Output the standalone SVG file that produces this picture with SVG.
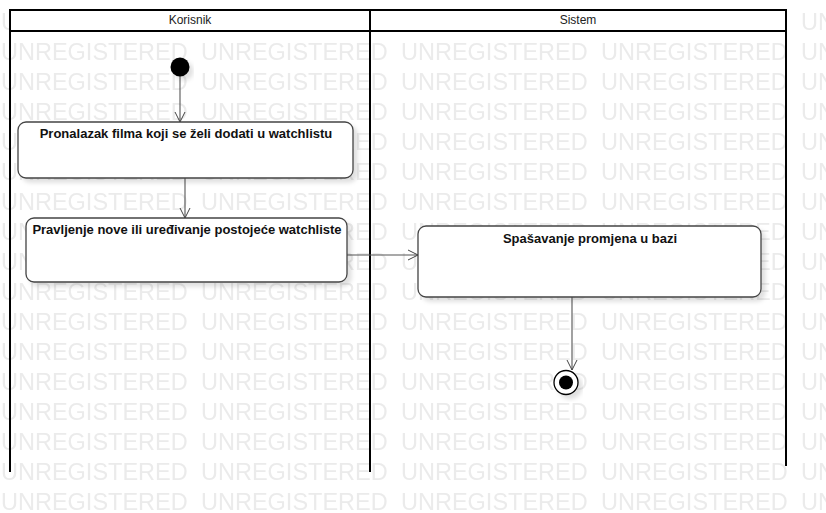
<svg xmlns="http://www.w3.org/2000/svg" width="826" height="513" viewBox="0 0 826 513">
  <defs>
    <pattern id="wm" x="0" y="0" width="200" height="30" patternUnits="userSpaceOnUse">
      <text x="1" y="30" class="wmt">UNREGISTERED</text>
    </pattern>
    <filter id="sh" x="-10%" y="-20%" width="130%" height="150%">
      <feDropShadow dx="4" dy="4" stdDeviation="2" flood-color="#000" flood-opacity="0.12"/>
    </filter>
    <marker id="arr" viewBox="0 0 12 12" refX="11" refY="6" markerWidth="12" markerHeight="12" markerUnits="userSpaceOnUse" orient="auto">
      <path d="M1,1 L11,6 L1,11" fill="none" stroke="#444" stroke-width="1"/>
    </marker>
    <style>
      .wmt { font-family: "Liberation Sans", Arial, sans-serif; font-size: 23.5px; fill: #ebebeb; }
      .lane { fill: none; stroke: #000; stroke-width: 2; }
      .hdr { font-family: "Liberation Sans", Arial, sans-serif; font-size: 12px; fill: #222; text-anchor: middle; }
      .act { fill: #fff; stroke: #444; stroke-width: 1.3; filter: url(#sh); }
      .lbl { font-family: "Liberation Sans", Arial, sans-serif; font-size: 13px; font-weight: bold; fill: #111; text-anchor: middle; }
      .con { fill: none; stroke: #555; stroke-width: 1.1; marker-end: url(#arr); }
    </style>
  </defs>

  <rect x="0" y="0" width="826" height="513" fill="#fff"/>
  <rect x="0" y="0" width="826" height="513" fill="url(#wm)"/>

  <g id="swimlanes">
    <rect x="10" y="10" width="776" height="21" fill="#fff"/>
    <path class="lane" d="M10,472 V10 H786 V466 M10,31 H786 M370,10 V472"/>
    <text class="hdr" x="190" y="24">Korisnik</text>
    <text class="hdr" x="578" y="24">Sistem</text>
  </g>

  <g id="connectors">
    <line class="con" x1="180" y1="76" x2="180" y2="122"/>
    <line class="con" x1="185" y1="178" x2="185" y2="218"/>
    <line class="con" x1="347" y1="255" x2="418" y2="255"/>
    <line class="con" x1="572" y1="297" x2="572" y2="370"/>
  </g>

  <g id="start">
    <circle cx="180" cy="67" r="9.5" fill="#000" filter="url(#sh)"/>
  </g>

  <g id="a1">
    <rect class="act" x="18" y="122" width="335" height="56" rx="8"/>
    <text class="lbl" x="186" y="138">Pronalazak filma koji se želi dodati u watchlistu</text>
  </g>

  <g id="a2">
    <rect class="act" x="26" y="218" width="321" height="64" rx="8"/>
    <text class="lbl" x="187" y="234">Pravljenje nove ili uređivanje postojeće watchliste</text>
  </g>

  <g id="a3">
    <rect class="act" x="418" y="226" width="343" height="71" rx="8"/>
    <text class="lbl" x="590" y="243">Spašavanje promjena u bazi</text>
  </g>

  <g id="end">
    <circle cx="566" cy="382.5" r="12" fill="#fff" stroke="#000" stroke-width="1.3" filter="url(#sh)"/>
    <circle cx="566" cy="382.5" r="7" fill="#000"/>
  </g>
</svg>
